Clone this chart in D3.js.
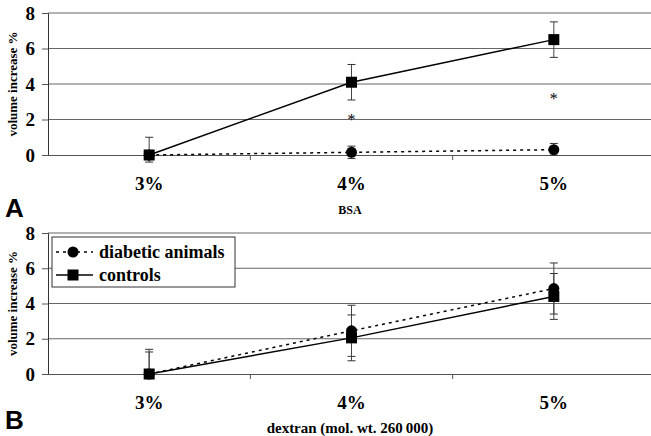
<!DOCTYPE html>
<html>
<head>
<meta charset="utf-8">
<script src="https://cdn.jsdelivr.net/npm/d3@7"></script>
<style>
  body { margin: 0; background: #fff; }
  svg { display: block; }
  svg text { font-family: "Liberation Serif", "Times New Roman", serif; }
  svg text.letter { font-family: "Liberation Sans", "DejaVu Sans", sans-serif; }
</style>
</head>
<body>
<svg id="chart" width="651" height="436"></svg>
<script>
// categories and tick values
let categories = ['3%', '4%', '5%'];
let yTicks = [0, 2, 4, 6, 8];

// panel A (BSA)
let bsaDiabetic = [0, 0.15, 0.3];
let bsaDiabeticUp = [0, 0.35, 0.35];
let bsaDiabeticDown = [0, 0.35, 0.3];
let bsaControls = [0, 4.1, 6.5];
let bsaControlsUp = [1.0, 1.0, 1.0];
let bsaControlsDown = [0.4, 1.0, 1.0];
let bsaStars = [{ cat: '4%', v: 2.2 }, { cat: '5%', v: 3.4 }];

// panel B (dextran)
let dexDiabetic = [0, 2.45, 4.85];
let dexDiabeticUp = [1.4, 1.45, 1.45];
let dexDiabeticDown = [0, 1.45, 1.45];
let dexControls = [0, 2.05, 4.4];
let dexControlsUp = [1.25, 1.3, 1.3];
let dexControlsDown = [0, 1.3, 1.3];

let svg = d3.select('#chart');

let xScale = d3.scaleBand()
	.domain(categories)
	.range([48, 655]);

function series(vals, up, down) {
	return vals.map((v, i) => ({ cat: categories[i], v: v, up: up[i], down: down[i] }));
}

function drawPanel(cfg) {
	let g = svg.append('g');
	let yScale = d3.scaleLinear().domain([0, 8]).range([cfg.y0, cfg.y8]);
	let cx = d => xScale(d.cat) + xScale.bandwidth() / 2;

	// gridlines
	g.selectAll('.grid')
		.data(yTicks.slice(1))
		.enter().append('line')
			.attr('x1', 48).attr('x2', 651)
			.attr('y1', d => yScale(d)).attr('y2', d => yScale(d))
			.attr('stroke', '#666').attr('stroke-width', 1);

	// y axis
	let yAxis = g.append('g')
		.attr('transform', 'translate(48,0)')
		.call(d3.axisLeft(yScale).tickValues(yTicks).tickSize(6).tickPadding(7).tickFormat(d3.format('d')));
	yAxis.attr('font-family', null);
	yAxis.select('.domain').attr('stroke', '#333');
	yAxis.selectAll('line').attr('stroke', '#555');
	yAxis.selectAll('text')
		.style('font-size', '19px').style('font-weight', 'bold').attr('fill', '#000');

	// x axis (line at 0)
	let xAxis = g.append('g')
		.attr('transform', `translate(0,${yScale(0)})`)
		.call(d3.axisBottom(xScale).tickSize(0).tickFormat(''));
	xAxis.select('.domain').attr('stroke', '#555');
	g.selectAll('.xtick')
		.data(categories.slice(1))
		.enter().append('line')
			.attr('x1', d => xScale(d)).attr('x2', d => xScale(d))
			.attr('y1', yScale(0)).attr('y2', yScale(0) + 5)
			.attr('stroke', '#555');

	// category labels
	g.selectAll('.cat')
		.data(categories)
		.enter().append('text')
			.attr('x', d => xScale(d) + xScale.bandwidth() / 2)
			.attr('y', yScale(0) + 35)
			.attr('text-anchor', 'middle')
			.style('font-size', '19px').style('font-weight', 'bold')
			.text(d => d);

	// x title
	g.append('text')
		.attr('x', 350).attr('y', yScale(0) + 59)
		.attr('text-anchor', 'middle')
		.style('font-size', cfg.xTitleSize).style('font-weight', 'bold')
		.text(cfg.xTitle);

	// y title
	g.append('text')
		.attr('transform', `translate(17,${(yScale(0) + yScale(8)) / 2}) rotate(-90)`)
		.attr('text-anchor', 'middle')
		.style('font-size', '13px').style('font-weight', 'bold')
		.text('volume increase %');

	// panel letter
	g.append('text')
		.attr('class', 'letter')
		.attr('x', 5).attr('y', cfg.letterY)
		.style('font-size', '26px').style('font-weight', 'bold')
		.text(cfg.letter);

	let line = d3.line().x(cx).y(d => yScale(d.v));

	let sets = [
		{ data: cfg.diabetic, dash: '3,4', shape: 'circle' },
		{ data: cfg.controls, dash: null, shape: 'square' }
	];

	sets.forEach(s => {
		// error bars
		let eb = g.append('g');
		s.data.forEach(d => {
			let x = cx(d);
			if (d.up > 0) {
				eb.append('line').attr('x1', x).attr('x2', x)
					.attr('y1', yScale(d.v)).attr('y2', yScale(d.v + d.up)).attr('stroke', '#444');
				eb.append('line').attr('x1', x - 4).attr('x2', x + 4)
					.attr('y1', yScale(d.v + d.up)).attr('y2', yScale(d.v + d.up)).attr('stroke', '#333');
			}
			if (d.down > 0) {
				eb.append('line').attr('x1', x).attr('x2', x)
					.attr('y1', yScale(d.v)).attr('y2', yScale(d.v - d.down)).attr('stroke', '#444');
				eb.append('line').attr('x1', x - 4).attr('x2', x + 4)
					.attr('y1', yScale(d.v - d.down)).attr('y2', yScale(d.v - d.down)).attr('stroke', '#333');
			}
		});
	});

	sets.forEach(s => {
		g.append('path')
			.datum(s.data)
			.attr('d', line)
			.attr('fill', 'none')
			.attr('stroke', '#000')
			.attr('stroke-width', 1.5)
			.attr('stroke-dasharray', s.dash);

		if (s.shape === 'circle') {
			g.selectAll(null).data(s.data).enter().append('circle')
				.attr('cx', cx).attr('cy', d => yScale(d.v)).attr('r', 5.5).attr('fill', '#000');
		} else {
			g.selectAll(null).data(s.data).enter().append('rect')
				.attr('x', d => cx(d) - 5.5).attr('y', d => yScale(d.v) - 5.5)
				.attr('width', 11).attr('height', 11).attr('fill', '#000');
		}
	});

	// significance marks
	g.selectAll('.star')
		.data(cfg.stars)
		.enter().append('text')
			.attr('x', cx).attr('y', d => yScale(d.v) + 9)
			.attr('text-anchor', 'middle')
			.attr('fill', '#000')
			.style('font-size', '16px')
			.text('*');

	return g;
}

drawPanel({
	y0: 155, y8: 13, letter: 'A', letterY: 217, xTitle: 'BSA', xTitleSize: '12px',
	diabetic: series(bsaDiabetic, bsaDiabeticUp, bsaDiabeticDown),
	controls: series(bsaControls, bsaControlsUp, bsaControlsDown),
	stars: bsaStars
});

let panelB = drawPanel({
	y0: 374, y8: 233, letter: 'B', letterY: 429, xTitle: 'dextran (mol. wt. 260\u2009000)', xTitleSize: '15px',
	diabetic: series(dexDiabetic, dexDiabeticUp, dexDiabeticDown),
	controls: series(dexControls, dexControlsUp, dexControlsDown),
	stars: []
});

// legend
let legend = panelB.append('g');
legend.append('rect')
	.attr('x', 52).attr('y', 237).attr('width', 183).attr('height', 50)
	.attr('fill', '#fff').attr('stroke', '#333');
let legendItems = [
	{ label: 'diabetic animals', dash: '3,4', shape: 'circle' },
	{ label: 'controls', dash: null, shape: 'square' }
];
legendItems.forEach((d, i) => {
	let y = 252 + i * 23;
	legend.append('line')
		.attr('x1', 56).attr('x2', 93).attr('y1', y).attr('y2', y)
		.attr('stroke', '#000').attr('stroke-width', 1.5).attr('stroke-dasharray', d.dash);
	if (d.shape === 'circle') {
		legend.append('circle').attr('cx', 73).attr('cy', y).attr('r', 5.5);
	} else {
		legend.append('rect').attr('x', 67.5).attr('y', y - 5.5).attr('width', 11).attr('height', 11);
	}
	legend.append('text')
		.attr('x', 99).attr('y', y + 6)
		.style('font-size', '18px').style('font-weight', 'bold')
		.text(d.label);
});
</script>
</body>
</html>
